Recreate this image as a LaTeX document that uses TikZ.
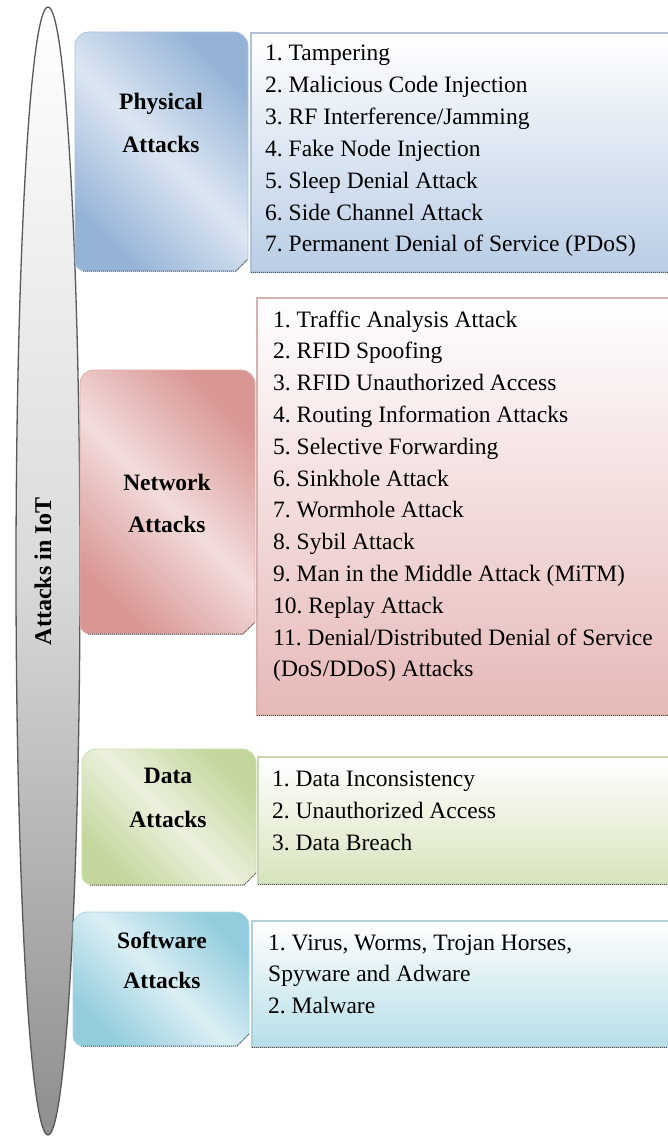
\documentclass[tikz,border=0pt]{standalone}
\usepackage{fontspec}
\setmainfont{Liberation Serif}
\usetikzlibrary{shapes.geometric}
\frenchspacing

\definecolor{phyDark}{HTML}{95B3D7}
\definecolor{phyLight}{HTML}{DCE6F2}
\definecolor{phyList}{HTML}{B9CDE5}
\definecolor{netDark}{HTML}{D99694}
\definecolor{netLight}{HTML}{F2DCDB}
\definecolor{netList}{HTML}{E6B9B8}
\definecolor{datDark}{HTML}{C3D69B}
\definecolor{datLight}{HTML}{EBF1DE}
\definecolor{datList}{HTML}{D7E4BD}
\definecolor{sofDark}{HTML}{93CDDD}
\definecolor{sofLight}{HTML}{DBEEF4}
\definecolor{sofList}{HTML}{B7DEE8}
\definecolor{rootMid}{HTML}{DADADA}
\definecolor{rootLow}{HTML}{8E8E8E}

\tikzset{
  item/.style={anchor=base west, inner sep=0pt, font=\fontsize{23.5}{32}\selectfont},
  head/.style={anchor=base, inner sep=0pt, font=\bfseries\fontsize{23.5}{30}\selectfont},
  dotrule/.style={draw=black!70, densely dotted, line width=1pt},
}

% category panel: rounded top corners, rounded lower-left, clipped lower-right
% #1 left, #2 top, #3 right, #4 bottom, #5 dark colour, #6 light colour
\newcommand\attackpanel[6]{%
  \shadedraw[top color=#5, bottom color=#5, middle color=#6, shading angle=-45,
             draw=#5!80!white, line width=0.8pt]
    (#1,#4+10) -- (#1,#2-14) arc[start angle=180,end angle=90,radius=14]
    -- (#3-14,#2) arc[start angle=90,end angle=0,radius=14]
    -- (#3,#4+12) -- (#3-12,#4) -- (#1+10,#4)
    arc[start angle=270,end angle=180,radius=10] -- cycle;
  \draw[dotrule] (#1+8,#4) -- (#3-12,#4) -- (#3,#4+12);
}

% list panel: plain rectangle, white at the top fading into the colour
% #1 left, #2 top, #3 right, #4 bottom, #5 colour
\newcommand\listpanel[5]{%
  \shadedraw[top color=white, bottom color=#5, draw=#5!85!gray, line width=1.2pt]
    (#1,#2) rectangle (#3,#4);
  \draw[dotrule] (#1,#4) -- (#3,#4);
}

\begin{document}
\begin{tikzpicture}[x=1pt,y=1pt]
\useasboundingbox (0,0) rectangle (668,-1137);
\fill[white] (0,0) rectangle (668,-1137);

% spine
\node[ellipse, draw=black!65, line width=1.3pt, minimum width=64pt, minimum height=1128pt,
      inner sep=0pt, top color=white, bottom color=rootLow, middle color=rootMid]
  (iot) at (48,-571) {};
\node[rotate=90, inner sep=0pt, font=\bfseries\fontsize{24}{26}\selectfont]
  (iotlabel) at (43,-571) {Attacks in IoT};

% physical attacks
\attackpanel{75}{-32}{248}{-271}{phyDark}{phyLight}
\listpanel{251}{-33}{672}{-272}{phyList}
\node[head] (phyA) at (161,-110) {Physical};
\node[head] (phyB) at (161,-152) {Attacks};
\foreach \txt [count=\i] in {1. Tampering, 2. Malicious Code Injection,
    3. RF Interference/Jamming, 4. Fake Node Injection, 5. Sleep Denial Attack,
    6. Side Channel Attack, 7. Permanent Denial of Service (PDoS)}
  \node[item] (phy\i) at (265,{-61-31.8*(\i-1)}) {\txt};

% network attacks
\attackpanel{80}{-370}{255}{-634}{netDark}{netLight}
\listpanel{257}{-298}{672}{-715}{netList}
\node[head] (netA) at (167,-490) {Network};
\node[head] (netB) at (167,-532) {Attacks};
\foreach \txt [count=\i] in {1. Traffic Analysis Attack, 2. RFID Spoofing,
    3. RFID Unauthorized Access, 4. Routing Information Attacks,
    5. Selective Forwarding, 6. Sinkhole Attack, 7. Wormhole Attack,
    8. Sybil Attack, 9. Man in the Middle Attack (MiTM), 10. Replay Attack,
    11. Denial/Distributed Denial of Service, (DoS/DDoS) Attacks}
  \node[item] (net\i) at (273,{-327-31.8*(\i-1)}) {\txt};

% data attacks
\attackpanel{82}{-749}{256}{-885}{datDark}{datLight}
\listpanel{258}{-757}{672}{-884}{datList}
\node[head] (datA) at (168,-783) {Data};
\node[head] (datB) at (168,-827) {Attacks};
\foreach \txt [count=\i] in {1. Data Inconsistency, 2. Unauthorized Access, 3. Data Breach}
  \node[item] (dat\i) at (272,{-786-32*(\i-1)}) {\txt};

% software attacks
\attackpanel{73}{-912}{249}{-1046}{sofDark}{sofLight}
\listpanel{252}{-921}{672}{-1047}{sofList}
\node[head] (sofA) at (162,-948) {Software};
\node[head] (sofB) at (162,-988) {Attacks};
\foreach \txt [count=\i] in {{1. Virus, Worms, Trojan Horses,}, Spyware and Adware, 2. Malware}
  \node[item] (sof\i) at (268,{-950-31.5*(\i-1)}) {\txt};
\end{tikzpicture}
\end{document}
